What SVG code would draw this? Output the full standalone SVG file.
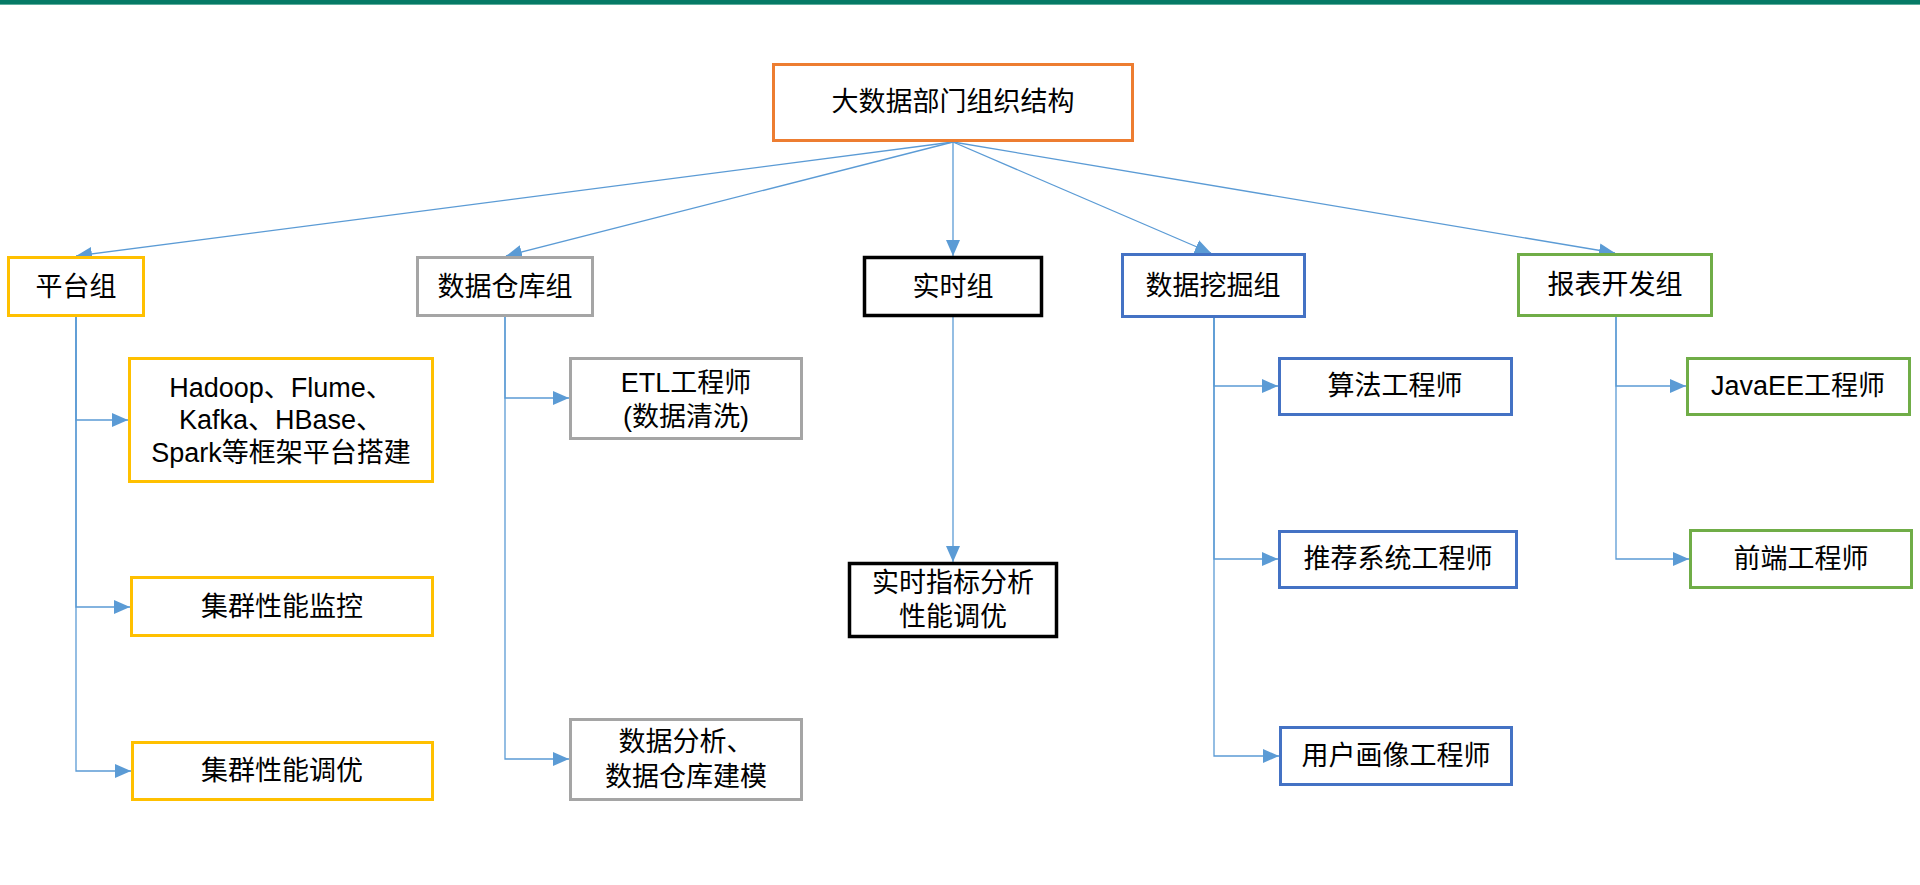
<svg xmlns="http://www.w3.org/2000/svg" width="1920" height="885" viewBox="0 0 1920 885">
  <style>
    .box { fill: #FFFFFF; stroke-width: 3; }
    .orange { stroke: #ED7D31; }
    .yellow { stroke: #FFC000; }
    .grey { stroke: #A5A5A5; }
    .black { stroke: #000000; stroke-width: 3.5; }
    .blue { stroke: #4472C4; }
    .green { stroke: #70AD47; }
    .t { font-family: "Liberation Sans", "Noto Sans CJK SC", sans-serif; font-size: 27px; fill: #000000; text-anchor: middle; dominant-baseline: central; }
    .conn { fill: none; stroke: #5B9BD5; stroke-width: 1.3; marker-end: url(#arrow); }
  </style>
  <defs>
    <marker id="arrow" markerUnits="userSpaceOnUse" markerWidth="16" markerHeight="14" refX="16" refY="7" orient="auto">
      <path d="M0,0 L16,7 L0,14 Z" fill="#5B9BD5"/>
    </marker>
  </defs>
  <rect x="0" y="0" width="1920" height="885" fill="#FFFFFF"/>
  <rect x="0" y="0" width="1920" height="4" fill="#067A66"/>
  <rect x="0" y="4" width="1920" height="1" fill="#5FAE9E"/>

  <g id="connectors">
    <path class="conn" d="M953,142 L76,256"/>
    <path class="conn" d="M953,142 L506,256"/>
    <path class="conn" d="M953,142 L953,256"/>
    <path class="conn" d="M953,142 L1211,253"/>
    <path class="conn" d="M953,142 L1615,253"/>
    <path class="conn" d="M953,317 L953,562"/>
    <path class="conn" d="M76,317 V420 H128"/>
    <path class="conn" d="M76,317 V607 H130"/>
    <path class="conn" d="M76,317 V771 H131"/>
    <path class="conn" d="M505,317 V398 H569"/>
    <path class="conn" d="M505,317 V759 H569"/>
    <path class="conn" d="M1214,318 V386 H1278"/>
    <path class="conn" d="M1214,318 V559 H1278"/>
    <path class="conn" d="M1214,318 V756 H1279"/>
    <path class="conn" d="M1616,317 V386 H1686"/>
    <path class="conn" d="M1616,317 V559 H1689"/>
  </g>

  <g id="root">
    <rect class="box orange" x="773.5" y="64.5" width="359" height="76"/>
    <text class="t" x="953" y="102">大数据部门组织结构</text>
  </g>

  <g id="platform">
    <rect class="box yellow" x="8.5" y="257.5" width="135" height="58"/>
    <text class="t" x="76" y="287">平台组</text>
  </g>
  <g id="platform-build">
    <rect class="box yellow" x="129.5" y="358.5" width="303" height="123"/>
    <text class="t" x="281" y="388">Hadoop、Flume、</text>
    <text class="t" x="281" y="420">Kafka、HBase、</text>
    <text class="t" x="281" y="453">Spark等框架平台搭建</text>
  </g>
  <g id="platform-monitor">
    <rect class="box yellow" x="131.5" y="577.5" width="301" height="58"/>
    <text class="t" x="282" y="607">集群性能监控</text>
  </g>
  <g id="platform-tune">
    <rect class="box yellow" x="132.5" y="742.5" width="300" height="57"/>
    <text class="t" x="282" y="771">集群性能调优</text>
  </g>

  <g id="warehouse">
    <rect class="box grey" x="417.5" y="257.5" width="175" height="58"/>
    <text class="t" x="505" y="287">数据仓库组</text>
  </g>
  <g id="etl">
    <rect class="box grey" x="570.5" y="358.5" width="231" height="80"/>
    <text class="t" x="686" y="383">ETL工程师</text>
    <text class="t" x="686" y="417">(数据清洗)</text>
  </g>
  <g id="dw-model">
    <rect class="box grey" x="570.5" y="719.5" width="231" height="80"/>
    <text class="t" x="686" y="742">数据分析、</text>
    <text class="t" x="686" y="777">数据仓库建模</text>
  </g>

  <g id="realtime">
    <rect class="box black" x="864.5" y="257.5" width="177" height="58"/>
    <text class="t" x="953" y="287">实时组</text>
  </g>
  <g id="realtime-metrics">
    <rect class="box black" x="849.5" y="563.5" width="207" height="73"/>
    <text class="t" x="953" y="583">实时指标分析</text>
    <text class="t" x="953" y="617">性能调优</text>
  </g>

  <g id="mining">
    <rect class="box blue" x="1122.5" y="254.5" width="182" height="62"/>
    <text class="t" x="1213" y="286">数据挖掘组</text>
  </g>
  <g id="algo">
    <rect class="box blue" x="1279.5" y="358.5" width="232" height="56"/>
    <text class="t" x="1395" y="386">算法工程师</text>
  </g>
  <g id="recommend">
    <rect class="box blue" x="1279.5" y="531.5" width="237" height="56"/>
    <text class="t" x="1398" y="559">推荐系统工程师</text>
  </g>
  <g id="profile">
    <rect class="box blue" x="1280.5" y="727.5" width="231" height="57"/>
    <text class="t" x="1396" y="756">用户画像工程师</text>
  </g>

  <g id="report">
    <rect class="box green" x="1518.5" y="254.5" width="193" height="61"/>
    <text class="t" x="1615" y="285">报表开发组</text>
  </g>
  <g id="javaee">
    <rect class="box green" x="1687.5" y="358.5" width="222" height="56"/>
    <text class="t" x="1798" y="386">JavaEE工程师</text>
  </g>
  <g id="frontend">
    <rect class="box green" x="1690.5" y="530.5" width="221" height="57"/>
    <text class="t" x="1801" y="559">前端工程师</text>
  </g>
</svg>
